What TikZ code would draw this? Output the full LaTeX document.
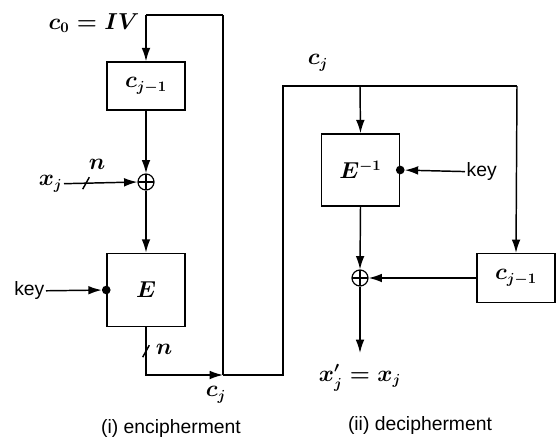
\documentclass[tikz,border=0pt]{standalone}
\usepackage{fontspec}
\setmainfont{Liberation Sans}
\usetikzlibrary{arrows.meta}
\begin{document}
\begin{tikzpicture}[
    x=0.75pt, y=-0.75pt,
    font=\fontsize{16}{19}\selectfont\boldmath,
    txt/.style={font=\fontsize{14.5}{17}\selectfont},
    blk/.style={rectangle, draw, line width=1.1pt, minimum width=58.5pt, align=center},
    xor/.style={circle, draw, line width=0.9pt, minimum size=12pt, inner sep=0pt,
        path picture={\draw[line width=0.8pt] (path picture bounding box.north) -- (path picture bounding box.south)
            (path picture bounding box.west) -- (path picture bounding box.east);}},
    dotn/.style={circle, fill, minimum size=6.5pt, inner sep=0pt},
    wire/.style={line width=1.1pt},
    arr/.style={wire, -{Latex[length=10pt, width=6.5pt]}}
]
\useasboundingbox (0,0) rectangle (558,439);

% Encipherment
\node[blk, minimum height=36pt] (cprev) at (146, 86)  {$c_{j-1}$};
\node[xor] (xorA) at (146, 182) {};
\node[blk, minimum height=55pt] (enc) at (146, 290) {$E$};
\node[dotn] (dotA) at (enc.west) {};
\node[txt, anchor=east, inner sep=1pt] (keyA) at (46, 291) {key};
\node[anchor=east, inner sep=1pt] (xj) at (64, 184) {$x_j$};
\node[anchor=north east, inner sep=1pt] (ivlbl) at (141, 12) {$c_0 = IV$};
\coordinate (ivtop) at (146, 15);
\coordinate (fbtop) at (223, 15);
\coordinate (encout) at (146, 375);
\coordinate (cjA) at (223, 375);
\node[inner sep=1pt] (cjAlbl) at (216, 395) {$c_j$};

\draw[wire] (fbtop) -- (ivtop);
\draw[arr] (ivtop) -- (cprev.north);
\draw[arr] (cprev.south) -- (xorA.north);
\draw[arr] (xj) -- coordinate[pos=0.3] (busA) (xorA.west);
\draw[arr] (xorA.south) -- (enc.north);
\draw[arr] (keyA) -- (dotA);
\draw[arr] (enc.south) -- coordinate[pos=0.5] (busB) (encout) -- (cjA);
\draw[wire] (fbtop) -- (cjA);
% bus width marks
\draw[wire] ([shift={(-2.5pt,-4.5pt)}]busA) -- ([shift={(2.5pt,4.5pt)}]busA);
\draw[wire] ([shift={(-2.5pt,-4.5pt)}]busB) -- ([shift={(2.5pt,4.5pt)}]busB);
\node[inner sep=1pt] (nA) at (97, 164) {$n$};
\node[inner sep=1pt] (nB) at (164, 349) {$n$};

% Decipherment
\node[blk, minimum height=54pt] (dec) at (360.5, 170) {$E^{-1}$};
\node[dotn] (dotB) at (dec.east) {};
\node[txt, anchor=west, inner sep=1pt] (keyB) at (465, 172) {key};
\node[xor] (xorB) at (360, 278) {};
\node[blk, minimum height=36.5pt] (cprevB) at (516, 278) {$c_{j-1}$};
\coordinate (lowL) at (283, 375);
\coordinate (topL) at (283, 86);
\coordinate (topM) at (360, 86);
\coordinate (topR) at (517, 86);
\coordinate (xout) at (360, 353);
\node[inner sep=1pt] (cjBlbl) at (318, 63) {$c_j$};
\node[anchor=north, inner sep=1pt] (xlbl) at (360, 363) {$x'_j = x_j$};

\draw[wire] (cjA) -- (lowL) -- (topL) -- (topR);
\draw[arr] (topM) -- (dec.north);
\draw[arr] (topR) -- (cprevB.north);
\draw[arr] (keyB) -- (dotB);
\draw[arr] (dec.south) -- (xorB.north);
\draw[arr] (cprevB.west) -- (xorB.east);
\draw[arr] (xorB.south) -- (xout);

% Captions
\node[txt] (capA) at (171, 428) {(i) encipherment};
\node[txt] (capB) at (420, 426) {(ii) decipherment};

\end{tikzpicture}
\end{document}
